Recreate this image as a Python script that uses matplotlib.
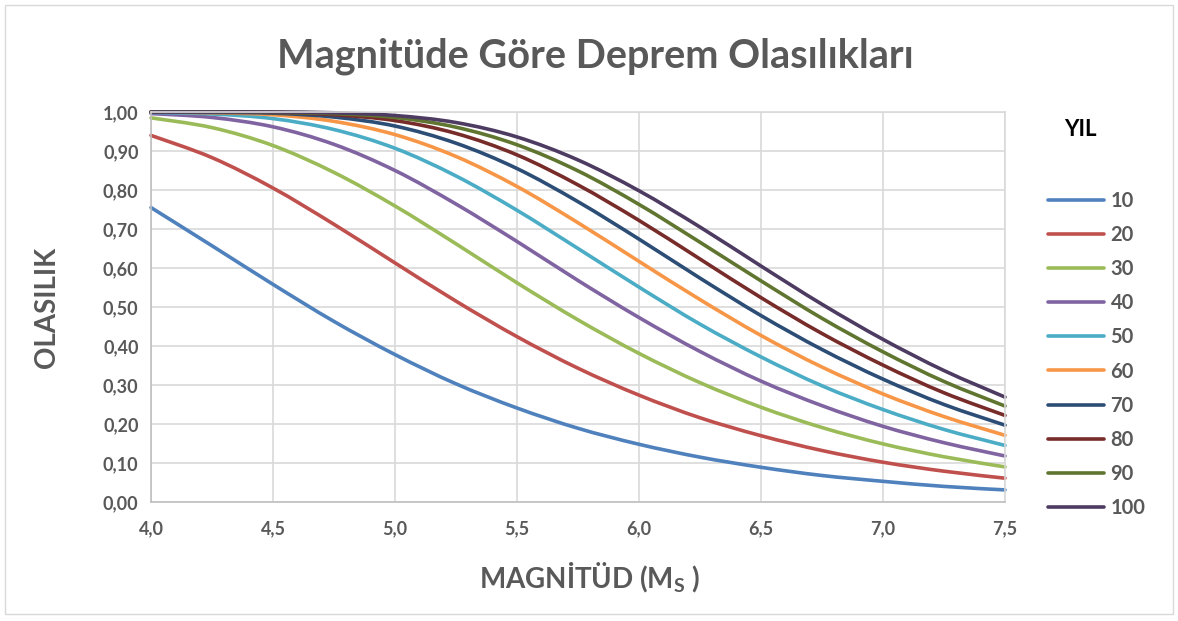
import matplotlib
matplotlib.use("Agg")
import matplotlib.pyplot as plt
from matplotlib.patches import Rectangle, PathPatch
from matplotlib.path import Path
from matplotlib.lines import Line2D

# Magnitude values (x axis)
magnitudes = [4.00, 4.25, 4.50, 4.75, 5.00, 5.25, 5.50, 5.75,
              6.00, 6.25, 6.50, 6.75, 7.00, 7.25, 7.50]

# Probability per return period (years)
p10 = [0.755, 0.657, 0.558, 0.463, 0.378, 0.303, 0.241, 0.189,
       0.148, 0.115, 0.089, 0.068, 0.053, 0.040, 0.031]
p20 = [0.940, 0.883, 0.805, 0.712, 0.613, 0.515, 0.424, 0.343,
       0.274, 0.216, 0.170, 0.132, 0.102, 0.079, 0.061]
p30 = [0.985, 0.960, 0.914, 0.845, 0.759, 0.662, 0.562, 0.467,
       0.381, 0.306, 0.243, 0.191, 0.149, 0.116, 0.090]
p40 = [0.996, 0.986, 0.962, 0.917, 0.850, 0.764, 0.668, 0.568,
       0.473, 0.386, 0.310, 0.247, 0.194, 0.152, 0.118]
p50 = [0.999, 0.995, 0.983, 0.955, 0.907, 0.836, 0.748, 0.650,
       0.551, 0.456, 0.372, 0.298, 0.237, 0.186, 0.145]
p60 = [1.000, 0.998, 0.993, 0.976, 0.942, 0.886, 0.809, 0.716,
       0.617, 0.519, 0.427, 0.346, 0.277, 0.219, 0.171]
p70 = [1.000, 0.999, 0.997, 0.987, 0.964, 0.920, 0.855, 0.770,
       0.674, 0.574, 0.478, 0.391, 0.315, 0.250, 0.197]
p80 = [1.000, 1.000, 0.999, 0.993, 0.978, 0.945, 0.890, 0.813,
       0.722, 0.623, 0.524, 0.432, 0.351, 0.280, 0.222]
p90 = [1.000, 1.000, 0.999, 0.996, 0.986, 0.961, 0.916, 0.849,
       0.763, 0.666, 0.567, 0.471, 0.385, 0.309, 0.246]
p100 = [1.000, 1.000, 1.000, 0.998, 0.991, 0.973, 0.936, 0.877,
        0.798, 0.705, 0.605, 0.507, 0.417, 0.337, 0.269]

years = ["10", "20", "30", "40", "50", "60", "70", "80", "90", "100"]
series = [p10, p20, p30, p40, p50, p60, p70, p80, p90, p100]
colors = ["#4F81BD", "#C0504D", "#9BBB59", "#8064A2", "#4BACC6",
          "#F79646", "#2C4D75", "#772C2A", "#5F7530", "#4D3B62"]

xticks = [4.0, 4.5, 5.0, 5.5, 6.0, 6.5, 7.0, 7.5]
yticks = [0.0, 0.1, 0.2, 0.3, 0.4, 0.5, 0.6, 0.7, 0.8, 0.9, 1.0]

plt.rcParams["font.family"] = ["Lato", "DejaVu Sans"]
plt.rcParams["mathtext.fontset"] = "custom"
plt.rcParams["mathtext.rm"] = "Lato:bold"
plt.rcParams["mathtext.bf"] = "Lato:bold"

grey = "#595959"


def smooth_path(xs, ys):
    # Excel-style smoothed line: bezier segments through the data points
    pts = list(zip(xs, ys))
    verts = [pts[0]]
    codes = [Path.MOVETO]
    n = len(pts)
    for i in range(n - 1):
        p0 = pts[max(i - 1, 0)]
        p1 = pts[i]
        p2 = pts[i + 1]
        p3 = pts[min(i + 2, n - 1)]
        c1 = (p1[0] + (p2[0] - p0[0]) / 6, p1[1] + (p2[1] - p0[1]) / 6)
        c2 = (p2[0] - (p3[0] - p1[0]) / 6, p2[1] - (p3[1] - p1[1]) / 6)
        verts += [c1, c2, p2]
        codes += [Path.CURVE4] * 3
    return Path(verts, codes)


fig = plt.figure(figsize=(11.78, 6.21), dpi=100)
fig.patches.append(Rectangle((0.004, 0.012), 0.992, 0.980, transform=fig.transFigure,
                             fill=False, edgecolor="#d9d9d9", linewidth=1))

ax = fig.add_axes([151 / 1178, 1 - 502 / 621, 854 / 1178, 390 / 621])

handles = []
for vals, lab, col in zip(series, years, colors):
    patch = PathPatch(smooth_path(magnitudes, vals), fill=False, edgecolor=col,
                      linewidth=2.6, capstyle="round", joinstyle="round", clip_on=False)
    ax.add_patch(patch)
    handles.append(Line2D([], [], color=col, linewidth=2.6, solid_capstyle="round", label=lab))

ax.set_xlim(4.0, 7.5)
ax.set_ylim(0.0, 1.0)
ax.set_xticks(xticks)
ax.set_yticks(yticks)
ax.set_xticklabels([f"{v:.1f}".replace(".", ",") for v in xticks])
ax.set_yticklabels([f"{v:.2f}".replace(".", ",") for v in yticks])
ax.tick_params(axis="y", length=0, labelsize=13, labelcolor=grey, pad=9)
ax.tick_params(axis="x", length=0, labelsize=13, labelcolor=grey, pad=13)
for lbl in ax.get_xticklabels() + ax.get_yticklabels():
    lbl.set_fontweight("bold")
ax.grid(True, color="#d9d9d9", linewidth=1.2)
ax.set_axisbelow(True)
for s in ax.spines.values():
    s.set_color("#d9d9d9")
    s.set_linewidth(1.2)
ax.spines["bottom"].set_color("#bfbfbf")
ax.spines["left"].set_color("#bfbfbf")

ax.set_xlabel(r"MAGNİTÜD (M$_\mathbf{S}$ )", fontsize=20, fontweight="bold",
              color=grey, va="center")
ax.xaxis.set_label_coords((590 - 151) / 854, (502 - 578) / 390)
ax.set_ylabel("OLASILIK", fontsize=20, fontweight="bold", color=grey, va="center")
ax.yaxis.set_label_coords((47 - 151) / 854, 0.5)

fig.text(595 / 1178, 1 - 56 / 621, "Magnitüde Göre Deprem Olasılıkları", ha="center",
         va="center", fontsize=28.5, fontweight="bold", color=grey)

fig.text(1080 / 1178, 1 - 130 / 621, "YIL", ha="center", va="center",
         fontsize=16, fontweight="bold", color="black")

leg = fig.legend(handles=handles, loc="upper left",
                 bbox_to_anchor=(1040 / 1178, 1 - 183 / 621),
                 frameon=False, fontsize=14.5, handlelength=2.8, handletextpad=0.3,
                 labelspacing=0.70, borderaxespad=0)
for t in leg.get_texts():
    t.set_color(grey)
    t.set_fontweight("bold")

fig.savefig("out.png", dpi=100)
